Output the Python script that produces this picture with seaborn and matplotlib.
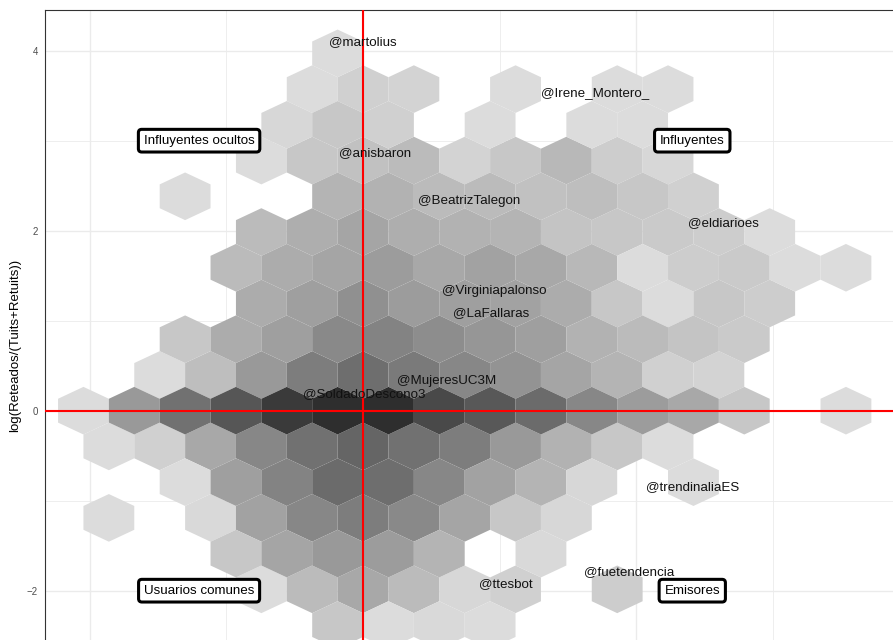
import numpy as np
import matplotlib
matplotlib.use("Agg")
import matplotlib.pyplot as plt
from matplotlib.colors import Normalize
import seaborn as sns

# Hexagon bin size in data units
BIN_W = 0.3721   # width of one hexagon (x)
BIN_H = 0.794    # vertical period of the lattice (two hexagon rows)

# Bin counts, one entry per hexagon row:
# (row index, first half-column index, counts every two half-columns; 0 = empty bin)
count_rows = [
    (10, -1, [1]),
    (9, -2, [1, 5, 4, 0, 1, 0, 1, 1]),
    (8, -3, [3, 8, 5, 0, 1, 0, 1, 1]),
    (7, -4, [1, 8, 10, 12, 4, 8, 13, 6, 3]),
    (6, -7, [1, 0, 0, 14, 15, 12, 12, 10, 11, 8, 5]),
    (5, -4, [12, 16, 19, 16, 15, 14, 9, 8, 7, 6, 1]),
    (4, -5, [12, 17, 19, 22, 18, 20, 18, 13, 1, 6, 7, 1, 1]),
    (3, -4, [17, 21, 26, 22, 21, 20, 17, 8, 1, 8, 6]),
    (2, -7, [8, 17, 21, 28, 30, 27, 24, 21, 15, 12, 9, 7]),
    (1, -8, [1, 11, 23, 32, 37, 33, 29, 25, 19, 14, 5, 4]),
    (0, -11, [1, 23, 36, 45, 54, 58, 58, 49, 44, 38, 29, 22, 18, 8, 0, 1]),
    (-1, -10, [1, 5, 18, 29, 36, 40, 36, 32, 23, 15, 8, 1]),
    (-2, -7, [1, 21, 30, 38, 37, 29, 20, 14, 3, 0, 1]),
    (-3, -10, [1, 0, 2, 20, 29, 32, 28, 19, 8, 3]),
    (-4, -5, [8, 19, 23, 22, 14, 0, 2]),
    (-5, -4, [1, 12, 18, 12, 3, 5, 0, 6]),
    (-6, -1, [8, 1, 2, 1]),
]

# Highlighted accounts
user_names = ["@martolius", "@Irene_Montero_", "@anisbaron", "@BeatrizTalegon",
              "@eldiarioes", "@Virginiapalonso", "@LaFallaras", "@MujeresUC3M",
              "@SoldadoDescono3", "@trendinaliaES", "@fuetendencia", "@ttesbot"]
user_x = [0.0, 1.70, 0.09, 0.78, 2.64, 0.96, 0.94, 0.615, 0.007, 2.416, 1.945, 1.043]
user_y = [4.10, 3.53, 2.86, 2.33, 2.09, 1.33, 1.08, 0.333, 0.186, -0.844, -1.789, -1.929]

# Quadrant labels
quadrant_names = ["Influyentes ocultos", "Influyentes", "Usuarios comunes", "Emisores"]
quadrant_x = [-1.2, 2.41, -1.2, 2.41]
quadrant_y = [3.0, 3.0, -2.0, -2.0]

y_ticks = [-2, 0, 2, 4]

# ---------------------------------------------------------------------------
cols, rows, counts = [], [], []
for r, c0, vals in count_rows:
    for k, v in enumerate(vals):
        if v > 0:
            rows.append(r)
            cols.append(c0 + 2 * k)
            counts.append(v)
hx = np.array(cols) * BIN_W / 2
hy = np.array(rows) * BIN_H / 2
counts = np.array(counts, dtype=float)

sns.set_style("white")
plt.rcParams["font.family"] = ["Liberation Sans", "DejaVu Sans"]

W, H = 893, 640
fig = plt.figure(figsize=(W / 100, H / 100), dpi=100)
ax = fig.add_axes([45 / W, -40.5 / H, 853 / W, 670.5 / H])

grey_cmap = sns.blend_palette(["#DCDCDC", "#2E2E2E"], as_cmap=True)

xmin, ymin = -8 * BIN_W, -4.5 * BIN_H
nx, ny = 20, 12
ax.hexbin(hx, hy, C=counts, gridsize=(nx, ny),
          extent=(xmin, xmin + nx * BIN_W, ymin, ymin + ny * BIN_H),
          reduce_C_function=np.sum, mincnt=1,
          cmap=grey_cmap, norm=Normalize(counts.min(), counts.max()),
          linewidths=0, edgecolors="none", zorder=2)

ax.axvline(0, color="#FF0000", lw=1.5, zorder=3)
ax.axhline(0, color="#FF0000", lw=1.5, zorder=3)

for name, x, y in zip(user_names, user_x, user_y):
    ax.text(x, y, name, ha="center", va="center", fontsize=9.6,
            color="#111111", zorder=4)

for name, x, y in zip(quadrant_names, quadrant_x, quadrant_y):
    ax.text(x, y, name, ha="center", va="center", fontsize=9.6, color="black",
            zorder=5,
            bbox=dict(boxstyle="round,pad=0.4,rounding_size=0.25",
                      fc="white", ec="black", lw=2.2))

ax.set_xlim(-2.328, 3.916)
ax.set_ylim(-2.998, 4.452)

ax.set_xticks([-2, 0, 2])
ax.set_xticks([-1, 1, 3], minor=True)
ax.set_yticks(y_ticks)
ax.set_yticks([-1, 1, 3], minor=True)
ax.set_axisbelow(True)
ax.grid(which="major", color="#EBEBEB", lw=1.0)
ax.grid(which="minor", color="#EBEBEB", lw=0.6)

ax.tick_params(axis="y", which="major", length=3, width=0.8, color="#333333",
               labelsize=7, labelcolor="#4D4D4D", pad=2)
ax.tick_params(axis="y", which="minor", length=0)
ax.tick_params(axis="x", which="both", length=0, labelbottom=False)

for s in ax.spines.values():
    s.set_color("#333333")
    s.set_linewidth(0.8)

ax.set_ylabel("log(Reteados/(Tuits+Retuits))", fontsize=9.5, color="black")
ax.yaxis.set_label_coords(-0.028, 0.5)

fig.savefig("out.png", dpi=100)
